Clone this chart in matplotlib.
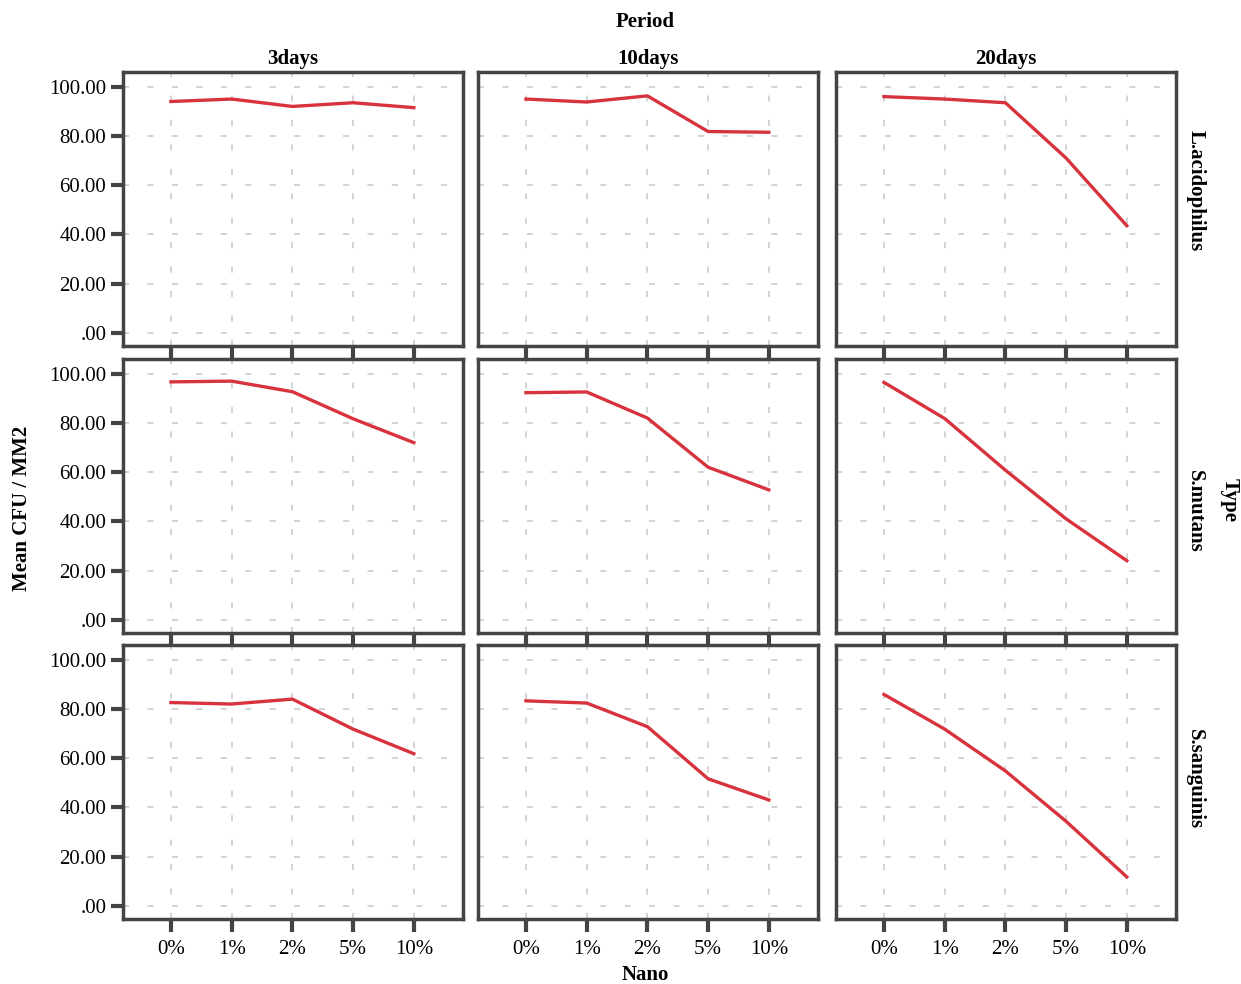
import matplotlib
matplotlib.use("Agg")
import matplotlib.pyplot as plt

plt.rcParams['font.family'] = ['Liberation Serif', 'DejaVu Serif']

nano_levels = ["0%", "1%", "2%", "5%", "10%"]
periods = ["3days", "10days", "20days"]
types = ["L.acidophilus", "S.mutans", "S.sanguinis"]

# Mean CFU / MM2 per type (rows) and period (columns)
lacid_3 = [94.0, 95.0, 92.0, 93.5, 91.5]
lacid_10 = [95.0, 93.8, 96.3, 81.8, 81.5]
lacid_20 = [96.0, 95.0, 93.5, 71.0, 43.5]
smut_3 = [96.7, 97.0, 92.7, 81.7, 72.0]
smut_10 = [92.3, 92.6, 82.0, 62.0, 52.8]
smut_20 = [96.5, 81.8, 60.8, 41.0, 24.0]
ssang_3 = [82.6, 82.0, 84.0, 71.8, 61.8]
ssang_10 = [83.3, 82.4, 72.8, 51.6, 43.0]
ssang_20 = [85.9, 71.8, 54.8, 34.3, 11.7]

data = [[lacid_3, lacid_10, lacid_20],
        [smut_3, smut_10, smut_20],
        [ssang_3, ssang_10, ssang_20]]

yticks = [0, 20, 40, 60, 80, 100]
ytick_labels = [".00", "20.00", "40.00", "60.00", "80.00", "100.00"]

fig = plt.figure(figsize=(12.41, 9.84), dpi=100)

lefts = [123/1241, 478/1241, 836/1241]
tops = [72/984, 359/984, 645/984]
w = 340/1241
h = 274/984
row_label_y = [0.568, 0.443, 0.51]

spine_col = "#444444"
grid_col = "#c8c8c8"
line_col = "#d8333d"

x = list(range(len(nano_levels)))
for r in range(3):
    for c in range(3):
        ax = fig.add_axes([lefts[c], 1 - tops[r] - h, w, h])
        ax.plot(x, data[r][c], color=line_col, lw=2.4, zorder=3)
        ax.set_xlim(-0.79, 4.81)
        ax.set_ylim(-5.4, 106.0)
        ax.set_xticks(x)
        ax.set_yticks(yticks)
        ax.grid(True, color=grid_col, linestyle=(0, (4, 12)), linewidth=1.1, zorder=1)
        for s in ax.spines.values():
            s.set_color(spine_col)
            s.set_linewidth(2.5)
        ax.tick_params(axis='x', length=9, width=3, color=spine_col, direction='out',
                       labelsize=15, pad=6)
        ax.tick_params(axis='y', length=9, width=3, color=spine_col, direction='out',
                       labelsize=15, pad=3)
        if c == 0:
            ax.set_yticklabels(ytick_labels)
        else:
            ax.tick_params(axis='y', length=0, labelleft=False)
        if r == 2:
            ax.set_xticklabels(nano_levels)
        else:
            ax.tick_params(axis='x', labelbottom=False)
        if r == 0:
            ax.set_title(periods[c], fontsize=15, fontweight='bold', pad=6)
        if c == 2:
            ax.text(1.057, row_label_y[r], types[r], transform=ax.transAxes, rotation=-90,
                    ha='center', va='center', fontsize=15, fontweight='bold')

fig.text(645/1241, 1 - 22/984, "Period", ha='center', va='center', fontsize=15, fontweight='bold')
fig.text(645/1241, 1 - 975/984, "Nano", ha='center', va='center', fontsize=15, fontweight='bold')
fig.text(22/1241, 1 - 508/984, "Mean CFU / MM2", ha='center', va='center', rotation=90,
         fontsize=15, fontweight='bold')
fig.text(1230/1241, 1 - 500/984, "Type", ha='center', va='center', rotation=-90,
         fontsize=15, fontweight='bold')

fig.savefig("out.png", dpi=100, facecolor='white')
